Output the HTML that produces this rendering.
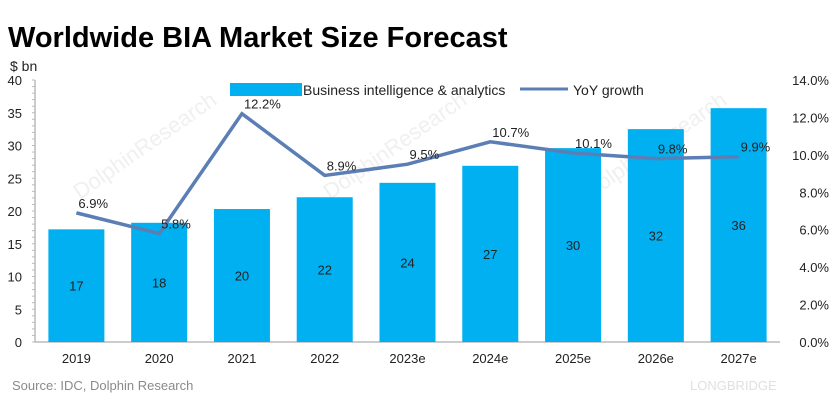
<!DOCTYPE html>
<html><head><meta charset="utf-8"><style>
body{margin:0;background:#fff;}
svg{display:block;font-family:"Liberation Sans","Noto Sans CJK SC",sans-serif;}
</style></head><body>
<svg id="c" width="832" height="406">
<text x="8" y="47" font-size="29" font-weight="bold" fill="#000">Worldwide BIA Market Size Forecast</text>
<text x="10" y="71" font-size="14" fill="#222">$ bn</text>
<text x="12" y="390" font-size="13" fill="#8a8a8a">Source: IDC, Dolphin Research</text>
<text x="690" y="390" font-size="13" fill="#e0e0e0">LONGBRIDGE</text>
<g id="wm" fill="#f0f0f0" font-size="22">
<text transform="translate(80,200) rotate(-35)">DolphinResearch</text>
<text transform="translate(330,200) rotate(-35)">DolphinResearch</text>
<text transform="translate(590,200) rotate(-35)">DolphinResearch</text>
</g>
<g id="plot"></g>
<rect x="230" y="83" width="72" height="13" fill="#00b0f0"/>
<text x="303" y="95" font-size="14" fill="#222">Business intelligence &amp; analytics</text>
<line x1="520" y1="89" x2="568" y2="89" stroke="#5b7fb5" stroke-width="3"/>
<text x="573" y="95" font-size="14" fill="#222">YoY growth</text>
</svg>
<script>
const categories=["2019","2020","2021","2022","2023e","2024e","2025e","2026e","2027e"];
const marketSize=[17.2,18.2,20.3,22.1,24.3,26.9,29.6,32.5,35.7];
const sizeLabels=["17","18","20","22","24","27","30","32","36"];
const growth=[6.9,5.8,12.2,8.9,9.5,10.7,10.1,9.8,9.9];
const leftTicks=[0,5,10,15,20,25,30,35,40];
const rightTicks=[0,2,4,6,8,10,12,14];

const NS="http://www.w3.org/2000/svg";
const g=document.getElementById('plot');
const X0=35,X1=780,Y0=342,Y1=80;
const step=(X1-X0)/categories.length;
const xc=i=>X0+step*(i+0.5);
const yL=v=>Y0-(v/40)*(Y0-Y1);
const yR=v=>Y0-(v/14)*(Y0-Y1);
function mk(t,a,txt){const e=document.createElementNS(NS,t);for(const k in a)e.setAttribute(k,a[k]);if(txt!==undefined)e.textContent=txt;g.appendChild(e);return e;}

let ax=mk('line',{x1:X0,y1:Y1,x2:X0,y2:Y0,stroke:'#999'});


for(let v=0;v<=40;v++){let t=mk('line',{x1:X0-3,x2:X0,y1:yL(v),y2:yL(v),stroke:'#bbb'});}
leftTicks.forEach(v=>{const t=mk('text',{x:22,y:yL(v)+5,'font-size':13,'text-anchor':'end',fill:'#222'},String(v));

});
rightTicks.forEach(v=>{const t=mk('text',{x:829,y:yR(v)+5,'font-size':13,'text-anchor':'end',fill:'#222'},v.toFixed(1)+'%');

});
let bx=mk('line',{x1:X0,y1:Y0,x2:X1,y2:Y0,stroke:'#999'});


categories.forEach((c,i)=>{
 const b=mk('rect',{x:xc(i)-28,y:yL(marketSize[i]),width:56,height:Y0-yL(marketSize[i]),fill:'#00b0f0'});
 
 
 const l=mk('text',{x:xc(i),y:(yL(marketSize[i])+Y0)/2+5,'font-size':13,'text-anchor':'middle',fill:'#222'},sizeLabels[i]);
 
 
 const t=mk('text',{x:xc(i),y:363,'font-size':13,'text-anchor':'middle',fill:'#222'},c);
 
 
});
const pl=mk('polyline',{points:growth.map((v,i)=>xc(i)+','+yR(v)).join(' '),fill:'none',stroke:'#5b7fb5','stroke-width':3.5,'stroke-linejoin':'miter'});


growth.forEach((v,i)=>{const t=mk('text',{x:xc(i)+2,y:yR(v)-5,'font-size':13,fill:'#222'},v.toFixed(1)+'%');

});
</script>
</body></html>
